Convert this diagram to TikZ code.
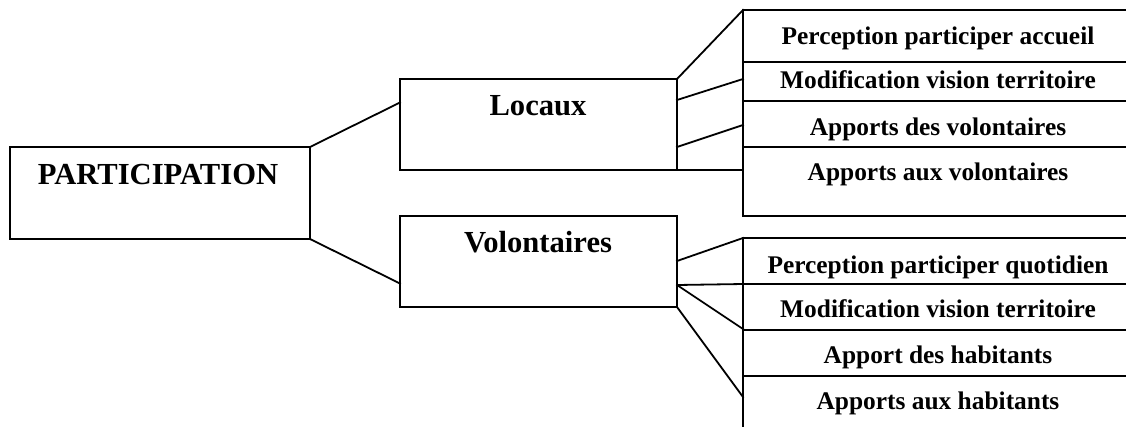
\documentclass[tikz,border=0pt]{standalone}
\usepackage{fontspec}
\setmainfont{Liberation Serif}
\begin{document}
\begin{tikzpicture}[x=1pt,y=-1pt,
  ln/.style={line width=1.8pt, line cap=rect},
  bigtxt/.style={anchor=base, inner sep=0pt, font=\fontsize{30.6}{34}\selectfont\bfseries},
  smalltxt/.style={anchor=base, inner sep=0pt, font=\fontsize{25.4}{29}\selectfont\bfseries},
  boxn/.style={draw, line width=1.8pt, rectangle, inner sep=0pt, outer sep=0pt, anchor=north west}]
\useasboundingbox (0,0) rectangle (1126,426);
\fill[white] (0,0) rectangle (1126,426);
% main boxes
\node[boxn, minimum width=300pt, minimum height=92pt] (part) at (10,147) {};
\node[boxn, minimum width=277pt, minimum height=91pt] (loc) at (400,79) {};
\node[boxn, minimum width=277pt, minimum height=91pt] (vol) at (400,216) {};
\node[bigtxt] (tpart) at (158,184) {PARTICIPATION};
\node[bigtxt] (tloc) at (538,115) {Locaux};
\node[bigtxt] (tvol) at (538,252) {Volontaires};
% attachment points
\coordinate (pl) at (400,102.5);
\coordinate (pv) at (400,283.5);
\coordinate (l1) at (677,100);
\coordinate (l2) at (677,147);
\coordinate (v1) at (677,261);
\coordinate (v2) at (677,285);
% right column, top group
\coordinate (A0) at (743,10);
\coordinate (A1) at (743,62);
\coordinate (A2) at (743,101);
\coordinate (A3) at (743,147);
\coordinate (A4) at (743,216);
\coordinate (Aa) at (743,79);
\coordinate (Ab) at (743,125);
\coordinate (Ac) at (743,170);
% right column, bottom group
\coordinate (B0) at (743,238);
\coordinate (B1) at (743,284);
\coordinate (B2) at (743,330);
\coordinate (B3) at (743,376);
\coordinate (B4) at (743,426);
\coordinate (Bb) at (743,329);
\coordinate (Bc) at (743,397);
\draw[ln] (A0) -- (A4);
\foreach \c in {A0,A1,A2,A3,A4} \draw[ln] (\c) -- ++(383,0);
\draw[ln] (B0) -- (B4);
\foreach \c in {B0,B1,B2,B3} \draw[ln] (\c) -- ++(383,0);
% texts
\node[smalltxt] (r1) at (938,44) {Perception participer accueil};
\node[smalltxt] (r2) at (938,88) {Modification vision territoire};
\node[smalltxt] (r3) at (938,135) {Apports des volontaires};
\node[smalltxt] (r4) at (938,180) {Apports aux volontaires};
\node[smalltxt] (s1) at (938,273) {Perception participer quotidien};
\node[smalltxt] (s2) at (938,317) {Modification vision territoire};
\node[smalltxt] (s3) at (938,363) {Apport des habitants};
\node[smalltxt] (s4) at (938,409) {Apports aux habitants};
% connectors
\draw[ln] (part.north east) -- (pl);
\draw[ln] (part.south east) -- (pv);
\draw[ln] (loc.north east) -- (A0);
\draw[ln] (l1) -- (Aa);
\draw[ln] (l2) -- (Ab);
\draw[ln] (loc.south east) -- (Ac);
\draw[ln] (v1) -- (B0);
\draw[ln] (v2) -- (B1);
\draw[ln] (v2) -- (Bb);
\draw[ln] (vol.south east) -- (Bc);
\end{tikzpicture}
\end{document}
